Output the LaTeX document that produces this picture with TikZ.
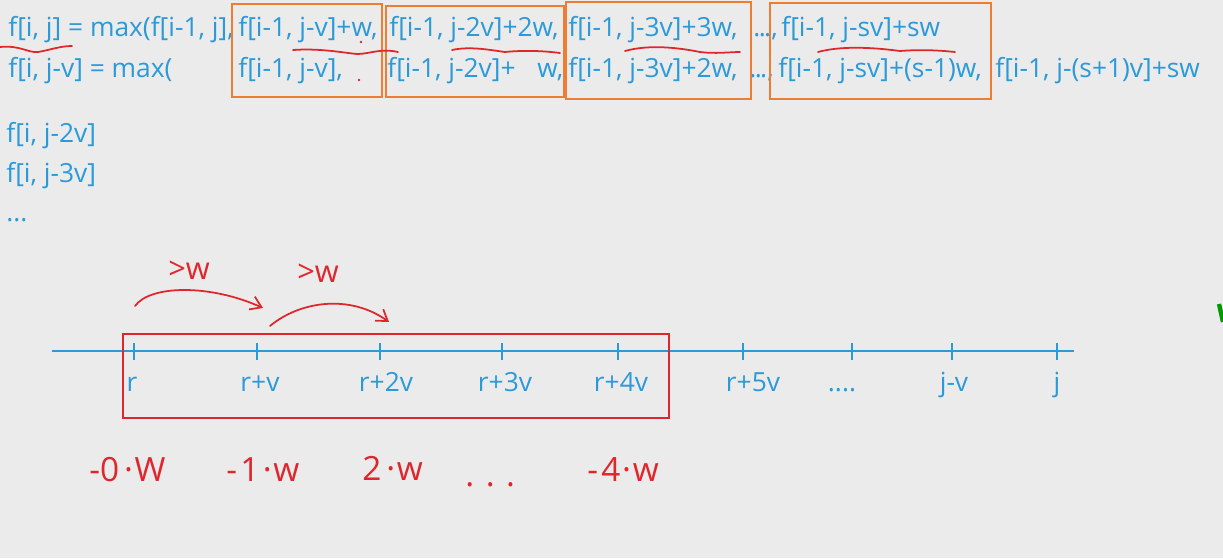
\documentclass[tikz,border=0pt]{standalone}
\usepackage{fontspec}
\setmainfont{Open Sans}
\usepackage[dvipsnames]{xcolor}
\usetikzlibrary{arrows, arrows.meta}
\definecolor{bggray}{HTML}{EBEBEB}
\definecolor{fblue}{HTML}{2A9AD8}
\definecolor{boxorange}{HTML}{ED7D31}
\definecolor{penred}{HTML}{E0262D}
\newcommand{\fourdots}{....}
\newcommand{\tightdots}{.\kern-0.06em.\kern-0.06em.}

\begin{document}
\begin{tikzpicture}[x=0.02cm,y=-0.02cm,
  formula/.style={anchor=base west,inner sep=0pt,text=fblue,font=\fontsize{15}{18}\selectfont},
  ticklabel/.style={anchor=base,inner sep=0pt,text=fblue,font=\fontsize{15}{18}\selectfont},
  obox/.style={draw=boxorange,line width=1.6pt},
  pen/.style={draw=penred,line width=1pt,line cap=round,line join=round},
  hand/.style={anchor=base west,inner sep=0pt,text=penred,font=\fontsize{19}{22}\selectfont}]
\useasboundingbox (0,0) rectangle (1223,558);
\fill[bggray] (0,0) rectangle (1223,558);
%---------------------------------------------------
\node[formula] (fa1) at (8,36)   {f[i, j] = max(f[i-1, j],};
\node[formula] (fa2) at (238,36) {f[i-1, j-v]+w,};
\node[formula] (fa3) at (389,36) {f[i-1, j-2v]+2w,};
\node[formula] (fa4) at (568,36) {f[i-1, j-3v]+3w,};
\node[formula] (fa5) at (753,36) {\tightdots,};
\node[formula] (fa6) at (781,36) {f[i-1, j-sv]+sw};
%---------------------------------------------------
\node[formula] (fb1) at (8,77)   {f[i, j-v] = max(};
\node[formula] (fb2) at (238,77) {f[i-1, j-v],};
\node[formula] (fb3) at (387,77) {f[i-1, j-2v]+\phantom{2}\hspace{0.25em}w,};
\node[formula] (fb4) at (568,77) {f[i-1, j-3v]+2w,};
\node[formula] (fb5) at (749,77) {\tightdots,};
\node[formula] (fb6) at (778,77) {f[i-1, j-sv]+(s-1)w,};
\node[formula] (fb7) at (995,77) {f[i-1, j-(s+1)v]+sw};
%---------------------------------------------------
\node[formula] (fc1) at (6,142) {f[i, j-2v]};
\node[formula] (fc2) at (6,182) {f[i, j-3v]};
\node[formula] (fc3) at (6,221) {...};
%---------------------------------------------------
\draw[obox] (232,4) rectangle (382,97);
\draw[obox] (386,6) rectangle (564,97);
\draw[obox] (566,2) rectangle (751,99);
\draw[obox] (770,3) rectangle (991,99);
%---------------------------------------------------
\draw[pen] (0,47) .. controls (20,45) and (28,53) .. (38,52) .. controls (50,50) and (60,46) .. (72,46);
\draw[pen] (293,50) .. controls (320,48) and (345,53) .. (357,54) .. controls (370,54) and (380,48) .. (398,52);
\draw[pen] (452,50) .. controls (470,46) and (490,50) .. (505,52) .. controls (525,50) and (545,51) .. (560,53);
\draw[pen] (625,51) .. controls (650,44) and (680,48) .. (700,52) .. controls (715,54) and (730,52) .. (740,52);
\draw[pen] (818,52) .. controls (840,46) and (870,47) .. (900,51) .. controls (925,49) and (945,51) .. (955,52);
\fill[penred] (361,42) circle (0.8pt);
\fill[penred] (359,80) circle (0.8pt);
%---------------------------------------------------
\draw[fblue,line width=1.5pt] (52,351) -- (1074,351);
\foreach \x/\lx/\lab [count=\k] in {134/132/r, 257/260/r+v, 380/386/r+2v, 502/505/r+3v,
  618/621/r+4v, 743/753/r+5v, 852/842/\fourdots, 952/954/j-v, 1057/1057/j}
{
  \coordinate (t\k) at (\x,351);
  \draw[fblue,line width=1.3pt] (\x,343) -- (\x,360);
  \node[ticklabel] (lab\k) at (\lx,391) {\lab};
}
%---------------------------------------------------
\draw[penred,line width=1.2pt] (123,334) rectangle (669,418);
\coordinate (a1s) at (135,306);
\coordinate (a1e) at (263,308);
\coordinate (a2s) at (270,326);
\coordinate (a2e) at (389,322);
\draw[pen,-{Straight Barb[length=6pt,width=8pt]}] (a1s) .. controls (150,285) and (210,284) .. (a1e);
\draw[pen,-{Straight Barb[length=6pt,width=8pt]}] (a2s) .. controls (300,301) and (350,294) .. (a2e);
\node[hand,font=\fontsize{17.5}{20}\selectfont] (gw1) at (168,279) {>w};
\node[hand,font=\fontsize{17.5}{20}\selectfont] (gw2) at (297,282) {>w};
%---------------------------------------------------
\node[hand] (k0) at (89,481) {-0\hspace{0.15em}·\hspace{0.05em}W};
\node[hand] (k1) at (226,481) {-\hspace{0.1em}1\hspace{0.1em}·\hspace{0.05em}w};
\node[hand] (k2) at (362,480) {2\hspace{0.15em}·\hspace{0.05em}w};
\node[hand] (k3) at (465,486) {. . .};
\node[hand] (k4) at (587,481) {-\hspace{0.1em}4\hspace{0.05em}·\hspace{0.05em}w};
%---------------------------------------------------
\draw[green!60!black,line width=2.5pt] (1219,304) -- (1223,322);
\end{tikzpicture}
\end{document}
